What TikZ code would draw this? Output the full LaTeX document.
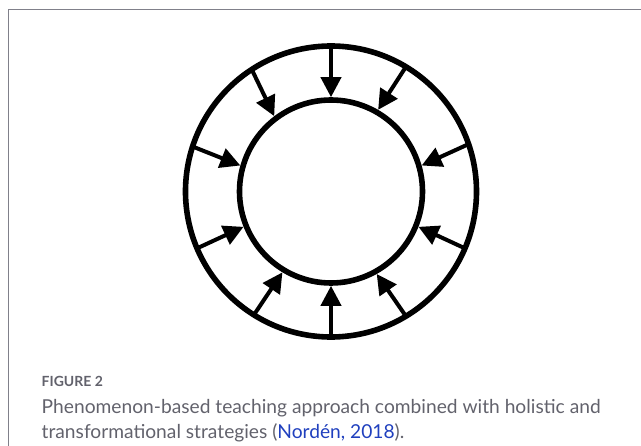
\documentclass[tikz,border=0pt]{standalone}
\usepackage{fontspec}
\setmainfont{Lato}
\usetikzlibrary{arrows.meta}
\definecolor{capgray}{RGB}{98,98,108}
\definecolor{capblue}{RGB}{32,64,190}
\definecolor{framegray}{RGB}{128,128,138}

\begin{document}
\begin{tikzpicture}[x=1pt, y=-1pt,
    ring/.style={circle, draw=black, line width=5.6pt, inner sep=0pt},
    push/.style={draw=black, line width=4pt,
                 -{Triangle[length=20pt, width=20pt]}},
    captext/.style={font=\fontsize{19.2}{22}\selectfont, color=capgray,
                anchor=base west, inner sep=0pt}]
  \useasboundingbox (0,0) rectangle (641,446);
  \draw[framegray, line width=1pt] (8.7,446) -- (8.7,9.3) -- (641,9.3);
  \node[ring, minimum size=291pt, outer sep=0pt] (outer) at (331,191.5) {};
  \node[ring, minimum size=183pt] (inner) at (331,191.5) {};
  % arrows from the outer ring inwards (start angle / end angle)
  \foreach \a/\b in {90/90, 59/60, 123/127, 162/164, 19.5/16,
                     203/202, 337.5/338, 238/239, 301/299.5, 270/270}
    \draw[push] (outer.\a) -- (inner.\b);
  \node[captext, font=\fontsize{14}{16}\selectfont\bfseries] (fig) at (41.5,387) {FIGURE 2};
  \node[captext] (line1) at (41.5,414)
    {Phenomenon-based teaching approach combined with holistic and};
  \node[captext] (line2) at (41.5,439)
    {transformational strategies (\textcolor{capblue}{Nordén, 2018}).};
\end{tikzpicture}
\end{document}
